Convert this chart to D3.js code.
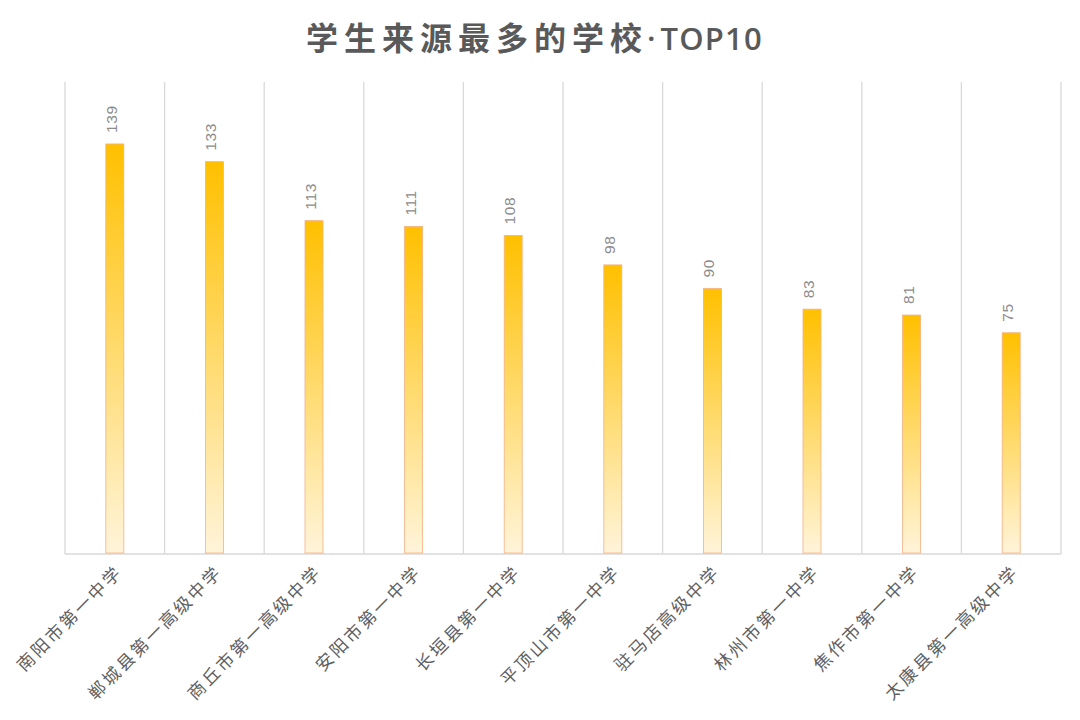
<!DOCTYPE html>
<html><head><meta charset="utf-8">
<script src="https://cdn.jsdelivr.net/npm/d3@7"></script>
<style>body{margin:0;background:#fff}svg{display:block}</style>
</head><body>
<svg id="c" width="1080" height="720"></svg>
<script>
const categories = ["南阳市第一中学","郸城县第一高级中学","商丘市第一高级中学","安阳市第一中学","长垣县第一中学","平顶山市第一中学","驻马店高级中学","林州市第一中学","焦作市第一中学","太康县第一高级中学"];
const values = [139,133,113,111,108,98,90,83,81,75];
const titleMain = "学生来源最多的学校";
const titleDot = "·";
const titleTail = "TOP10";

const svg = d3.select("#c");
const m = {left:65, right:1061, top:82, bottom:554};
const font = "'Noto Sans CJK SC','Microsoft YaHei',sans-serif";

const x = d3.scaleBand().domain(categories).range([m.left, m.right]).padding(0);
const y = d3.scaleLinear().domain([0,160]).range([m.bottom, m.top]);

const defs = svg.append("defs");
const g = defs.append("linearGradient").attr("id","bg").attr("x1",0).attr("y1",0).attr("x2",0).attr("y2",1);
g.append("stop").attr("offset","0%").attr("stop-color","#FFC000");
g.append("stop").attr("offset","100%").attr("stop-color","#FFF4DA");

const t = svg.append("text").attr("x",306).attr("y",50).attr("text-anchor","start")
  .attr("font-family",font).attr("font-size",32).attr("font-weight","bold")
  .attr("fill","#595959");
t.append("tspan").attr("letter-spacing",6).text(titleMain);
t.append("tspan").attr("font-family","'Open Sans','Liberation Sans',sans-serif").attr("font-weight",600)
  .attr("font-size",31).attr("dx",-1).text(titleDot);
t.append("tspan").attr("font-family","'Open Sans','Liberation Sans',sans-serif").attr("font-weight",600)
  .attr("font-size",31).attr("letter-spacing",1.2).attr("dx",5).text(titleTail);

// vertical gridlines at category boundaries
const bounds = categories.map(c=>x(c)).concat([m.right]);
svg.append("g").selectAll("line").data(bounds).join("line")
  .attr("x1",d=>d).attr("x2",d=>d).attr("y1",m.top).attr("y2",m.bottom)
  .attr("stroke","#d9d9d9").attr("stroke-width",1.3);

svg.append("line").attr("x1",m.left).attr("x2",m.right).attr("y1",m.bottom).attr("y2",m.bottom)
  .attr("stroke","#d9d9d9").attr("stroke-width",1.5);

const bw = 18;
svg.append("g").selectAll("rect").data(values).join("rect")
  .attr("x",(d,i)=>x(categories[i])+x.bandwidth()/2-bw/2)
  .attr("y",d=>y(d)).attr("width",bw).attr("height",d=>m.bottom-y(d)-1)
  .attr("fill","url(#bg)").attr("stroke","#F4B183").attr("stroke-width",0.8);

svg.append("g").selectAll("text").data(values).join("text")
  .attr("transform",(d,i)=>`translate(${x(categories[i])+x.bandwidth()/2+2},${y(d)-11}) rotate(-90)`)
  .attr("font-family","'Liberation Sans',Arial,sans-serif").attr("font-size",15.5)
  .attr("letter-spacing",0.6)
  .attr("fill","#8c8c8c").text(d=>d);

svg.append("g").selectAll("text").data(categories).join("text")
  .attr("transform",c=>`translate(${x(c)+x.bandwidth()/2+9},${m.bottom+19}) rotate(-45)`)
  .attr("text-anchor","end")
  .attr("font-family",font).attr("font-size",17.5)
  .attr("letter-spacing",2.6)
  .attr("fill","#5f5f5f").text(c=>c);
</script>
</body></html>
